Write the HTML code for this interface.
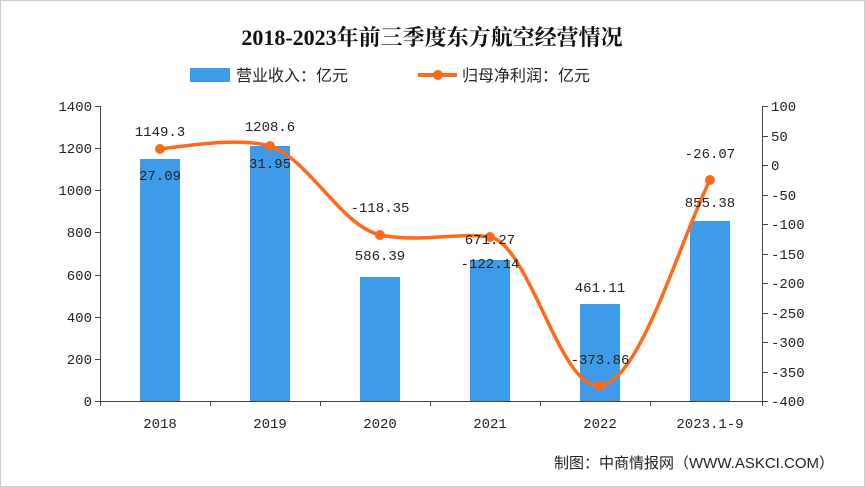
<!DOCTYPE html>
<html><head><meta charset="utf-8"><style>
html,body{margin:0;padding:0;background:#fff}
svg{display:block}
text{font-family:"Liberation Mono","Noto Sans CJK SC",monospace;font-size:14px;fill:#222}
</style></head><body>
<svg width="865" height="487" viewBox="0 0 865 487" xmlns="http://www.w3.org/2000/svg">
<rect x="0.5" y="0.5" width="864" height="486" fill="#fff" stroke="#ccc"/>
<text x="432" y="45" text-anchor="middle" style="font-family:'Liberation Serif','Noto Serif CJK SC',serif;font-size:22px;font-weight:bold;fill:#111">2018-2023年前三季度东方航空经营情况</text>
<rect x="190" y="68" width="40" height="14" fill="#3d9be9"/>
<text x="236" y="81" style="font-family:'Liberation Sans','Noto Sans CJK SC',sans-serif;font-size:16px">营业收入：亿元</text>
<line x1="418" y1="75" x2="457" y2="75" stroke="#ff6a1a" stroke-width="4"/>
<circle cx="438" cy="75" r="5" fill="#ff6a1a"/>
<text x="462" y="81" style="font-family:'Liberation Sans','Noto Sans CJK SC',sans-serif;font-size:16px">归母净利润：亿元</text>
<g stroke="#444" stroke-width="1" fill="none">
<line x1="100.5" y1="106" x2="100.5" y2="401"/>
<line x1="762.5" y1="106" x2="762.5" y2="401"/>
<line x1="100" y1="401.5" x2="763" y2="401.5"/>
<path d="M95 106.5h5M95 148.5h5M95 190.5h5M95 232.5h5M95 275.5h5M95 317.5h5M95 359.5h5M95 401.5h5"/>
<path d="M763 106.5h5M763 136.5h5M763 165.5h5M763 195.5h5M763 224.5h5M763 254.5h5M763 283.5h5M763 313.5h5M763 342.5h5M763 372.5h5M763 401.5h5"/>
<path d="M100.5 401v5M210.5 401v5M320.5 401v5M430.5 401v5M540.5 401v5M650.5 401v5M762.5 401v5"/>
</g>
<g text-anchor="end">
<text x="92" y="111">1400</text><text x="92" y="153">1200</text><text x="92" y="195">1000</text><text x="92" y="237">800</text><text x="92" y="280">600</text><text x="92" y="322">400</text><text x="92" y="364">200</text><text x="92" y="406">0</text>
</g>
<g>
<text x="771" y="111">100</text><text x="771" y="141">50</text><text x="771" y="170">0</text><text x="771" y="200">-50</text><text x="771" y="229">-100</text><text x="771" y="259">-150</text><text x="771" y="288">-200</text><text x="771" y="318">-250</text><text x="771" y="347">-300</text><text x="771" y="377">-350</text><text x="771" y="406">-400</text>
</g>
<g text-anchor="middle">
<text x="160" y="428">2018</text><text x="270" y="428">2019</text><text x="380" y="428">2020</text><text x="490" y="428">2021</text><text x="600" y="428">2022</text><text x="710" y="428">2023.1-9</text>
</g>
<g fill="#3d9be9">
<rect x="140" y="159" width="40" height="242"/>
<rect x="250" y="146" width="40" height="255"/>
<rect x="360" y="277" width="40" height="124"/>
<rect x="470" y="260" width="40" height="141"/>
<rect x="580" y="304" width="40" height="97"/>
<rect x="690" y="221" width="40" height="180"/>
</g>
<path d="M160 149 C200 144,240 138,270 146 C310 160,340 225,380 235 C420 243,460 232,490 237 C530 245,560 390,600 386 C640 382,680 240,710 180" fill="none" stroke="#ff6a1a" stroke-width="3.5"/>
<g fill="#ff6a1a">
<circle cx="160" cy="149" r="5"/><circle cx="270" cy="146" r="5"/><circle cx="380" cy="235" r="5"/><circle cx="490" cy="237" r="5"/><circle cx="600" cy="386" r="5"/><circle cx="710" cy="180" r="5"/>
</g>
<g text-anchor="middle">
<text x="160" y="136">1149.3</text><text x="270" y="131">1208.6</text><text x="380" y="260">586.39</text><text x="490" y="244">671.27</text><text x="600" y="292">461.11</text><text x="710" y="207">855.38</text>
<text x="160" y="180">27.09</text><text x="270" y="168">31.95</text><text x="380" y="212">-118.35</text><text x="490" y="268">-122.14</text><text x="600" y="364">-373.86</text><text x="710" y="158">-26.07</text>
</g>
<text x="834" y="468" text-anchor="end" style="font-family:'Liberation Sans','Noto Sans CJK SC',sans-serif;font-size:15px">制图：中商情报网（WWW.ASKCI.COM）</text>
</svg>
</body></html>
